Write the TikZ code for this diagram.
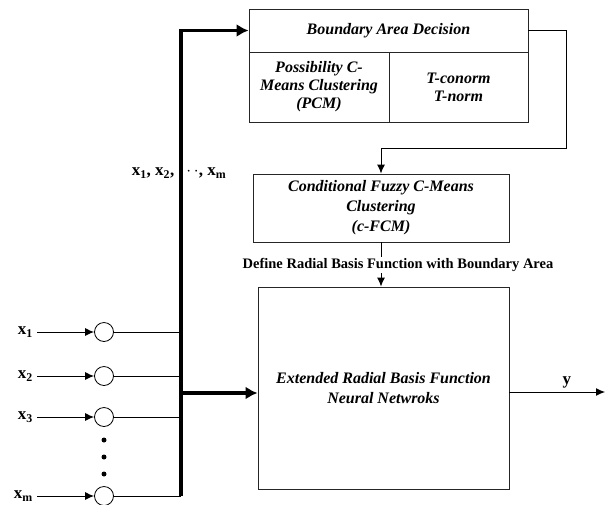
\documentclass[tikz,border=0pt]{standalone}
\usepackage{fontspec}
\setmainfont{Liberation Serif}
\usetikzlibrary{arrows.meta}
\begin{document}
\begin{tikzpicture}[x=1pt,y=-1pt,
 box/.style={draw=black!85,line width=0.9pt,inner sep=0pt,font=\fontsize{16}{18}\selectfont\bfseries\itshape,align=center},
 thin/.style={line width=1pt},
 bus/.style={line width=3.5pt},
 arr/.style={-{Latex[length=9pt,width=8pt]}},
 barr/.style={-{Latex[length=12pt,width=13pt]}},
 neuron/.style={circle,draw,line width=0.8pt,minimum size=19pt,inner sep=0pt},
 lbl/.style={font=\fontsize{17}{19}\selectfont\bfseries,inner sep=1pt},
 dot/.style={circle,fill,inner sep=0pt,minimum size=5pt}]
\useasboundingbox (0,0) rectangle (615,504);
% boxes
\node[box,minimum width=279pt,minimum height=43pt] (bad) at (388.5,30.5) {Boundary Area Decision};
\node[box,minimum width=140pt,minimum height=70pt] (pcm) at (319,87) {Possibility C-\\Means Clustering\\(PCM)};
\node[box,minimum width=139pt,minimum height=70pt] (tn) at (458.5,87) {T-conorm\\T-norm};
\node[box,minimum width=256pt,minimum height=68pt,font=\fontsize{16}{20}\selectfont\bfseries\itshape] (cfcm) at (381,208) {Conditional Fuzzy C-Means\\Clustering\\(c-FCM)};
\node[box,minimum width=251pt,minimum height=202pt,font=\fontsize{16}{20}\selectfont\bfseries\itshape] (rbf) at (383.5,388) {Extended Radial Basis Function\\Neural Netwroks};
\node[font=\fontsize{14.5}{16}\selectfont\bfseries,inner sep=1pt] (def) at (398,265) {Define Radial Basis Function with Boundary Area};
% feedback
\coordinate (fb1) at (566,30.5);
\coordinate (fb2) at (566,148);
\coordinate (fb3) at (381,148);
\draw[thin,arr] (bad.east) -- (fb1) -- (fb2) -- (fb3) -- (cfcm.north);
\draw[thin] (cfcm.south) -- (cfcm.south |- def.north);
\draw[thin,arr] (cfcm.south |- def.south) -- (cfcm.south |- rbf.north);
% bus label
\node[lbl] (buslbl) at (179,173) {x\textsubscript{1}, x\textsubscript{2}, $\cdots$, x\textsubscript{m}};
% inputs
\node[neuron] (c1) at (104,332) {};
\node[neuron] (c2) at (104,376) {};
\node[neuron] (c3) at (104,417) {};
\node[neuron] (cm) at (104,496) {};
\node[lbl,anchor=east] (x1) at (34,332) {x\textsubscript{1}};
\node[lbl,anchor=east] (x2) at (34,376) {x\textsubscript{2}};
\node[lbl,anchor=east] (x3) at (34,417) {x\textsubscript{3}};
\node[lbl,anchor=east] (xm) at (34,496) {x\textsubscript{m}};
\node[dot] (d1) at (104,440) {};
\node[dot] (d2) at (104,457) {};
\node[dot] (d3) at (104,474) {};
\coordinate (bb) at (181,496);
\coordinate (bm) at (181,393);
\foreach \i in {1,2,3,m}{
  \draw[thin,arr] (x\i.east) ++(3,0) -- (c\i.west);
  \draw[thin] (c\i.east) -- (c\i.east -| bb);
}
\draw[bus,barr] (bb) -- (bb |- bad.west) -- (bad.west);
\draw[bus,barr] (bm) -- (bm -| rbf.west);
% output
\coordinate (yout) at (605,392);
\draw[thin,arr] (rbf.east |- yout) -- (yout) node[pos=0.6,above=2pt,lbl] (ylbl) {y};
\end{tikzpicture}
\end{document}
